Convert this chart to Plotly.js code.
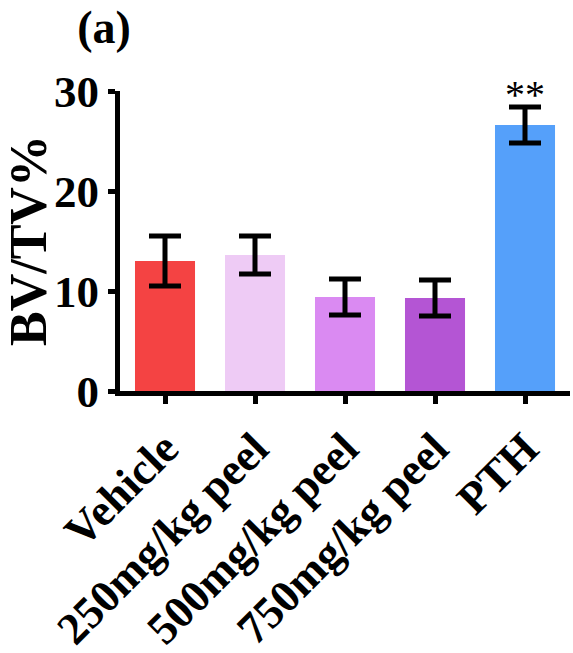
<!DOCTYPE html>
<html>
<head>
<meta charset="utf-8">
<script src="https://cdn.plot.ly/plotly-3.0.1.min.js"></script>
<style>html,body{margin:0;padding:0;background:#fff;}#chart{width:573px;height:653px;}</style>
</head>
<body>
<div id="chart"></div>
<script>
const categories = ["Vehicle", "250mg/kg peel", "500mg/kg peel", "750mg/kg peel", "PTH"];
const values = [13.0, 13.6, 9.4, 9.3, 26.6];
const errors = [2.5, 1.9, 1.8, 1.8, 1.8];
const barColors = ["#F44343", "#EECBF5", "#DA8AF2", "#B455D4", "#55A0FA"];
const yTicks = [0, 10, 20, 30];
const sigLabel = "**";
const sigIndex = 4;

const FONT = "Liberation Serif, Times New Roman, serif";

const trace = {
  type: "bar",
  x: categories,
  y: values,
  marker: {color: barColors, line: {width: 0}},
  error_y: {type: "data", array: errors, visible: true, color: "#000", thickness: 5, width: 16},
  hoverinfo: "none"
};

const layout = {
  width: 573, height: 653,
  margin: {l: 120, r: 3, t: 91, b: 262},
  paper_bgcolor: "#fff", plot_bgcolor: "#fff",
  showlegend: false,
  bargap: 0.333,
  title: {text: "<b>(a)</b>", font: {family: FONT, size: 46, color: "#000"},
          xref: "container", yref: "container", x: 104/573, xanchor: "center", y: 1 - 27/653, yanchor: "middle"},
  xaxis: {
    type: "category", range: [-0.5, 4.5],
    showline: true, linecolor: "#000", linewidth: 5,
    ticks: "outside", ticklen: 8, tickwidth: 5, tickcolor: "#000",
    tickangle: -45, tickfont: {family: FONT, size: 45, color: "#000", weight: "bold"},
    showgrid: false, zeroline: false, automargin: false
  },
  yaxis: {
    range: [0, 30], tickvals: yTicks, ticktext: yTicks.map(String),
    showline: true, linecolor: "#000", linewidth: 5,
    ticks: "outside", ticklen: 7, tickwidth: 5, tickcolor: "#000",
    tickfont: {family: FONT, size: 45, color: "#000", weight: "bold"},
    showgrid: false, zeroline: false, automargin: false
  },
  annotations: [
    {text: "<b>BV/TV%</b>", xref: "paper", yref: "paper", x: (28 - 120) / 450, y: 0.5,
     xanchor: "center", yanchor: "middle", textangle: -90, showarrow: false,
     font: {family: FONT, size: 52, color: "#000"}},
    {text: sigLabel, xref: "x", yref: "y", x: categories[sigIndex], y: values[sigIndex] + errors[sigIndex],
     xanchor: "center", yanchor: "bottom", yshift: -12, showarrow: false,
     font: {family: FONT, size: 40, color: "#000"}}
  ]
};

Plotly.newPlot("chart", [trace], layout, {staticPlot: true, displayModeBar: false});
</script>
</body>
</html>
